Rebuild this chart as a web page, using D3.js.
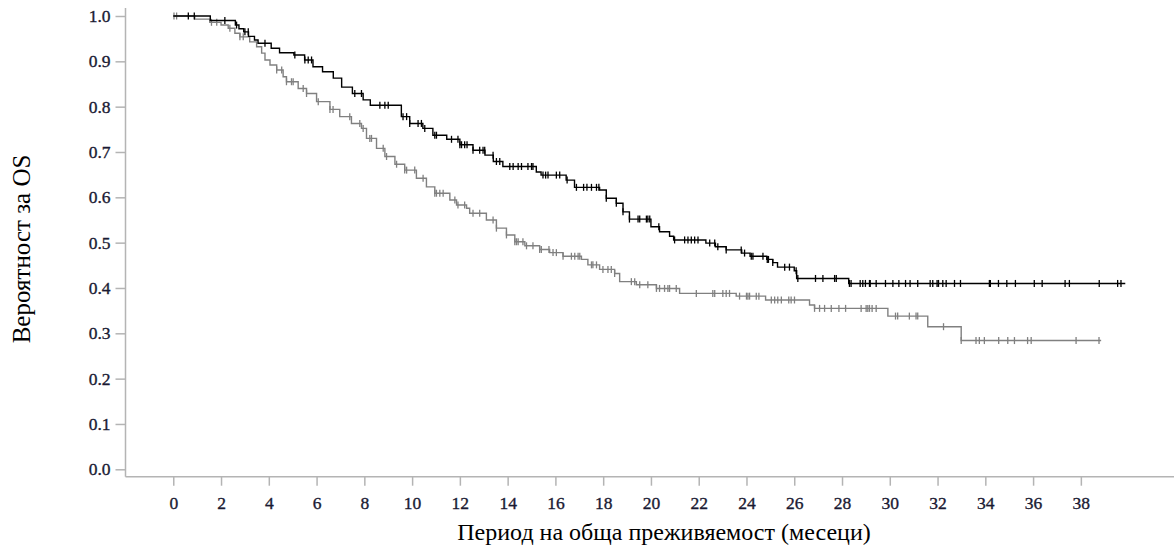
<!DOCTYPE html>
<html>
<head>
<meta charset="utf-8">
<script src="https://cdn.jsdelivr.net/npm/d3@7"></script>
<style>
body { margin: 0; background: #fff; }
text { font-family: "Liberation Serif", "Times New Roman", serif; }
</style>
</head>
<body>
<svg id="chart" width="1174" height="549"></svg>
<script>
// Kaplan-Meier OS curves
var xTicks = [0, 2, 4, 6, 8, 10, 12, 14, 16, 18, 20, 22, 24, 26, 28, 30, 32, 34, 36, 38];
var yTicks = [0, 0.1, 0.2, 0.3, 0.4, 0.5, 0.6, 0.7, 0.8, 0.9, 1.0];
var xTitle = "Период на обща преживяемост (месеци)";
var yTitle = "Вероятност за OS";

// black arm: step times (months) and survival after each step
var blackTimes = [0, 1.55, 2.6, 2.75, 2.95, 3.15, 3.4, 3.55, 4.1, 4.45, 5.05, 5.5, 5.85, 6.25, 6.7, 7.05, 7.5, 7.95, 8.25, 9.55, 9.9, 10.45, 10.87, 11.45, 12.0, 12.55, 13.05, 13.4, 13.8, 15.2, 15.4, 16.45, 16.8, 17.85, 18.13, 18.55, 18.83, 19.1, 20.0, 20.36, 20.78, 20.95, 22.3, 22.7, 23.15, 23.8, 24.15, 24.85, 25.1, 25.3, 26.0, 26.1, 28.28, 39.86];
var blackSurv = [1.0, 0.99, 0.98, 0.972, 0.965, 0.955, 0.947, 0.94, 0.929, 0.919, 0.914, 0.903, 0.888, 0.877, 0.863, 0.843, 0.829, 0.815, 0.803, 0.778, 0.763, 0.752, 0.737, 0.728, 0.716, 0.704, 0.693, 0.679, 0.668, 0.656, 0.649, 0.638, 0.622, 0.616, 0.598, 0.587, 0.568, 0.552, 0.535, 0.524, 0.514, 0.506, 0.499, 0.491, 0.484, 0.477, 0.47, 0.463, 0.456, 0.446, 0.438, 0.421, 0.41, 0.41];
var blackCensor = [0.63, 0.88, 2.16, 2.65, 3.0, 3.14, 3.84, 5.09, 5.51, 5.65, 5.79, 7.6, 7.88, 8.65, 8.86, 9.0, 9.62, 9.77, 9.9, 10.25, 10.39, 10.53, 10.95, 11.02, 11.65, 11.92, 12.0, 12.07, 12.2, 12.3, 12.55, 12.83, 12.97, 13.04, 13.39, 13.53, 13.67, 14.09, 14.23, 14.44, 14.58, 14.85, 15.0, 15.06, 15.48, 15.59, 15.69, 16.04, 16.18, 16.49, 16.88, 17.18, 17.32, 17.51, 17.72, 17.82, 18.13, 18.55, 18.83, 19.1, 19.46, 19.53, 19.81, 19.87, 19.95, 20.33, 20.99, 21.41, 21.55, 21.69, 21.83, 21.97, 22.46, 22.67, 22.8, 23.15, 23.78, 23.92, 24.2, 24.27, 24.69, 24.87, 24.92, 25.1, 25.6, 25.8, 26.08, 26.15, 26.89, 27.2, 27.69, 27.76, 28.31, 28.38, 28.76, 28.87, 28.98, 29.15, 29.18, 29.43, 29.82, 30.13, 30.38, 30.66, 30.85, 31.17, 31.69, 31.8, 31.98, 32.04, 32.22, 32.36, 32.71, 32.96, 34.17, 34.21, 34.55, 34.9, 35.26, 36.05, 36.38, 37.34, 37.52, 38.77, 39.54, 39.68];

// grey arm
var greyTimes = [0, 0.9, 1.53, 2.0, 2.3, 2.58, 2.79, 3.2, 3.49, 3.7, 3.84, 4.05, 4.33, 4.6, 4.74, 5.23, 5.58, 6.0, 6.56, 6.97, 7.46, 7.88, 8.09, 8.51, 8.86, 9.28, 9.69, 10.18, 10.6, 10.95, 11.58, 11.86, 12.28, 12.41, 13.11, 13.53, 13.95, 14.3, 14.72, 15.34, 15.76, 16.32, 17.09, 17.36, 17.85, 18.48, 18.69, 19.39, 20.23, 21.2, 23.57, 24.8, 26.64, 26.85, 29.92, 31.59, 32.99, 38.85];
var greySurv = [1.0, 0.993, 0.986, 0.98, 0.973, 0.962, 0.954, 0.943, 0.932, 0.918, 0.903, 0.892, 0.881, 0.866, 0.855, 0.84, 0.829, 0.811, 0.794, 0.778, 0.763, 0.752, 0.73, 0.708, 0.69, 0.673, 0.66, 0.642, 0.623, 0.609, 0.594, 0.583, 0.576, 0.565, 0.55, 0.532, 0.517, 0.502, 0.493, 0.485, 0.478, 0.47, 0.463, 0.451, 0.441, 0.432, 0.414, 0.407, 0.399, 0.388, 0.382, 0.3735, 0.3625, 0.355, 0.338, 0.3146, 0.284, 0.284];
var greyCensor = [0.03, 0.14, 1.6, 1.82, 2.37, 2.79, 2.93, 4.33, 4.54, 4.74, 4.95, 5.02, 5.44, 5.58, 6.07, 6.56, 6.69, 7.39, 7.81, 7.95, 8.23, 8.3, 8.79, 8.93, 9.35, 9.69, 9.77, 10.11, 10.46, 10.95, 11.02, 11.16, 11.3, 11.79, 11.92, 12.2, 12.55, 12.83, 13.39, 13.53, 13.95, 14.3, 14.37, 14.44, 14.64, 14.79, 15.06, 15.34, 15.41, 15.73, 15.9, 16.04, 16.32, 16.67, 16.81, 16.95, 17.02, 17.51, 17.57, 17.72, 17.99, 18.2, 18.34, 18.48, 19.18, 19.32, 19.53, 19.87, 20.23, 20.36, 20.57, 20.71, 20.78, 21.06, 21.9, 22.59, 22.67, 23.01, 23.15, 23.29, 23.71, 24.0, 24.06, 24.13, 24.41, 24.52, 25.04, 25.18, 25.31, 25.46, 25.77, 25.87, 26.01, 26.85, 27.06, 27.27, 27.55, 27.87, 28.15, 28.8, 29.01, 29.08, 29.15, 29.26, 29.43, 30.24, 30.33, 30.82, 31.1, 31.17, 32.25, 32.99, 33.61, 33.75, 33.96, 34.56, 34.94, 35.22, 35.77, 35.92, 37.8, 38.76];

var svg = d3.select("#chart");

var x = d3.scaleLinear().domain([-2, 41.9]).range([125.5, 1174]);
var y = d3.scaleLinear().domain([0, 1]).range([469.3, 16]);
var AXIS_Y = 476.7;
var AXIS_COLOR = "#b4b4b4";
var TICK_FONT = "17.5px";

// y axis
var yAxis = svg.append("g")
    .attr("transform", "translate(" + x(-2) + ",0)")
    .call(d3.axisLeft(y).tickValues(yTicks).tickFormat(d3.format(".1f")).tickSize(10).tickPadding(5).tickSizeOuter(0));
yAxis.select(".domain").remove();

// x axis
var xAxis = svg.append("g")
    .attr("transform", "translate(0," + AXIS_Y + ")")
    .call(d3.axisBottom(x).tickValues(xTicks).tickSize(9).tickPadding(11).tickSizeOuter(0));
xAxis.select(".domain").remove();

svg.selectAll(".tick line").attr("stroke", AXIS_COLOR).attr("stroke-width", 1.5);
svg.selectAll(".tick text")
    .attr("fill", "#1a1a33")
    .attr("stroke", "#1a1a33")
    .attr("stroke-width", 0.35)
    .style("font-size", TICK_FONT)
    .style("font-family", "'Liberation Serif', serif");

// axis lines
svg.append("line")
    .attr("x1", x(-2)).attr("x2", x(-2))
    .attr("y1", 8).attr("y2", AXIS_Y)
    .attr("stroke", AXIS_COLOR).attr("stroke-width", 1.5);
svg.append("line")
    .attr("x1", x(-2)).attr("x2", 1174)
    .attr("y1", AXIS_Y).attr("y2", AXIS_Y)
    .attr("stroke", AXIS_COLOR).attr("stroke-width", 1.5);

// titles
svg.append("text")
    .attr("x", 664).attr("y", 540)
    .attr("text-anchor", "middle")
    .style("font-size", "24px")
    .attr("fill", "#000")
    .text(xTitle);
svg.append("text")
    .attr("transform", "translate(30,249) rotate(-90)")
    .attr("text-anchor", "middle")
    .style("font-size", "25px")
    .attr("fill", "#000")
    .text(yTitle);

var stepLine = d3.line()
    .x(function(d) { return x(d[0]); })
    .y(function(d) { return y(d[1]); })
    .curve(d3.curveStepAfter);

function survAt(times, surv, t) {
    var i = d3.bisectRight(times, t) - 1;
    return surv[Math.max(0, i)];
}

function drawArm(times, surv, censor, color) {
    var pts = times.map(function(t, i) { return [t, surv[i]]; });
    var g = svg.append("g");
    g.append("path")
        .datum(pts)
        .attr("d", stepLine)
        .attr("fill", "none")
        .attr("stroke", color)
        .attr("stroke-width", 1.4);
    // censor ticks
    g.selectAll("line.censor")
        .data(censor)
        .enter()
        .append("line")
        .attr("class", "censor")
        .attr("x1", function(d) { return x(d); })
        .attr("x2", function(d) { return x(d); })
        .attr("y1", function(d) { return y(survAt(times, surv, d)) - 3.5; })
        .attr("y2", function(d) { return y(survAt(times, surv, d)) + 3.5; })
        .attr("stroke", color)
        .attr("stroke-width", 1.3);
}

drawArm(greyTimes, greySurv, greyCensor, "#808080");
drawArm(blackTimes, blackSurv, blackCensor, "#000");
</script>
</body>
</html>
